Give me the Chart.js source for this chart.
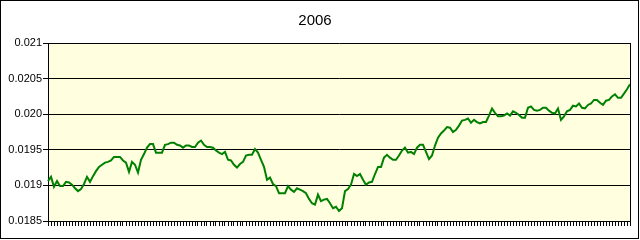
<!DOCTYPE html>
<html>
<head>
<meta charset="utf-8">
<script src="https://cdn.jsdelivr.net/npm/chart.js@4/dist/chart.umd.min.js"></script>
<style>
  html, body { margin: 0; padding: 0; background: #fff; }
  canvas { display: block; }
</style>
</head>
<body>
<canvas id="myChart" width="640" height="240"></canvas>
<script>
    // values, one per trading day sample
    var rates = [
        0.01906, 0.01912, 0.01898, 0.01906, 0.01899, 0.01899, 0.01905, 0.01904, 0.01901, 0.01896,
        0.01892, 0.01895, 0.01902, 0.01912, 0.01905, 0.01913, 0.01920, 0.01926, 0.01929, 0.01932,
        0.01933, 0.01935, 0.01940, 0.01940, 0.01940, 0.01935, 0.01932, 0.01919, 0.01933, 0.01929,
        0.01918, 0.01936, 0.01944, 0.01953, 0.01958, 0.01958, 0.01946, 0.01946, 0.01946, 0.01957,
        0.01958, 0.01960, 0.01960, 0.01957, 0.01956, 0.01953, 0.01956, 0.01956, 0.01954, 0.01954,
        0.01960, 0.01963, 0.01957, 0.01954, 0.01954, 0.01953, 0.01949, 0.01946, 0.01944, 0.01947,
        0.01936, 0.01935, 0.01929, 0.01925, 0.01930, 0.01933, 0.01942, 0.01943, 0.01943, 0.01951,
        0.01946, 0.01936, 0.01926, 0.01908, 0.01911, 0.01902, 0.01899, 0.01889, 0.01889, 0.01889,
        0.01899, 0.01894, 0.01891, 0.01896, 0.01894, 0.01892, 0.01889, 0.01881, 0.01875, 0.01873,
        0.01887, 0.01878, 0.01880, 0.01881, 0.01875, 0.01868, 0.01870, 0.01864, 0.01868, 0.01892,
        0.01895, 0.01901, 0.01916, 0.01913, 0.01916, 0.01908, 0.01901, 0.01904, 0.01905, 0.01916,
        0.01926, 0.01926, 0.01939, 0.01943, 0.01939, 0.01936, 0.01936, 0.01942, 0.01949, 0.01953,
        0.01946, 0.01947, 0.01944, 0.01953, 0.01957, 0.01957, 0.01947, 0.01937, 0.01942, 0.01956,
        0.01967, 0.01973, 0.01977, 0.01982, 0.01981, 0.01975, 0.01978, 0.01984, 0.01991, 0.01992,
        0.01994, 0.01988, 0.01992, 0.01989, 0.01987, 0.01989, 0.01989, 0.01998, 0.02008, 0.02002,
        0.01997, 0.01997, 0.01998, 0.02001, 0.01998, 0.02004, 0.02002, 0.01999, 0.01995, 0.01995,
        0.02009, 0.02011, 0.02006, 0.02005, 0.02006, 0.02009, 0.02009, 0.02005, 0.02002, 0.02001,
        0.02008, 0.01992, 0.01997, 0.02004, 0.02006, 0.02012, 0.02011, 0.02015, 0.02009, 0.02008,
        0.02013, 0.02015, 0.02020, 0.02020, 0.02016, 0.02013, 0.02019, 0.02020, 0.02025, 0.02028,
        0.02023, 0.02023, 0.02029, 0.02035, 0.02042
    ];

    // category labels are not shown, one per point
    var days = rates.map(function (v, i) { return String(i + 1); });

    var yTicks = [0.0185, 0.019, 0.0195, 0.020, 0.0205, 0.021];
    var yTickLabels = ['0.0185', '0.019', '0.0195', '0.020', '0.0205', '0.021'];

    // yellow plot area, right edge and outer frame
    var framePlugin = {
        id: 'frame',
        beforeDraw: function (chart) {
            var c = chart.ctx, a = chart.chartArea;
            c.save();
            c.fillStyle = '#ffffff';
            c.fillRect(0, 0, chart.width, chart.height);
            c.fillStyle = '#ffffe0';
            c.fillRect(a.left, a.top, a.right - a.left, a.bottom - a.top);
            c.restore();
        },
        afterDraw: function (chart) {
            var c = chart.ctx, a = chart.chartArea;
            c.save();
            c.strokeStyle = '#000';
            c.lineWidth = 1;
            c.beginPath();
            c.moveTo(Math.round(a.right) + 0.5, a.top);
            c.lineTo(Math.round(a.right) + 0.5, a.bottom);
            c.stroke();
            c.strokeRect(0.5, 0.5, 638, 238);
            c.restore();
        }
    };

    var ctx = document.getElementById('myChart').getContext('2d');

    var myChart = new Chart(ctx, {
        type: 'line',
        data: {
            labels: days,
            datasets: [{
                data: rates,
                borderColor: '#008000',
                borderWidth: 2,
                pointRadius: 0,
                tension: 0,
                fill: false
            }]
        },
        options: {
            responsive: false,
            animation: false,
            layout: { padding: { left: 0, right: 10, top: 0, bottom: 14 } },
            plugins: {
                legend: { display: false },
                tooltip: { enabled: false },
                title: {
                    display: true,
                    text: '2006',
                    color: '#000',
                    font: { family: 'Liberation Sans', size: 15, weight: 'normal' },
                    padding: { top: 12, bottom: 13 }
                }
            },
            scales: {
                x: {
                    grid: { drawOnChartArea: false, drawTicks: true, tickLength: 5, color: '#000' },
                    border: { color: '#000' },
                    ticks: { display: false, autoSkip: false }
                },
                y: {
                    min: 0.0185,
                    max: 0.021,
                    afterFit: function (scale) { scale.width = 48; },
                    afterBuildTicks: function (scale) {
                        scale.ticks = yTicks.map(function (v) { return { value: v }; });
                    },
                    grid: { color: '#000', tickLength: 5 },
                    border: { color: '#000' },
                    ticks: {
                        color: '#000',
                        padding: 1,
                        font: { family: 'Liberation Sans', size: 11 },
                        callback: function (value, index) { return yTickLabels[index]; }
                    }
                }
            }
        },
        plugins: [framePlugin]
    });
</script>
</body>
</html>
